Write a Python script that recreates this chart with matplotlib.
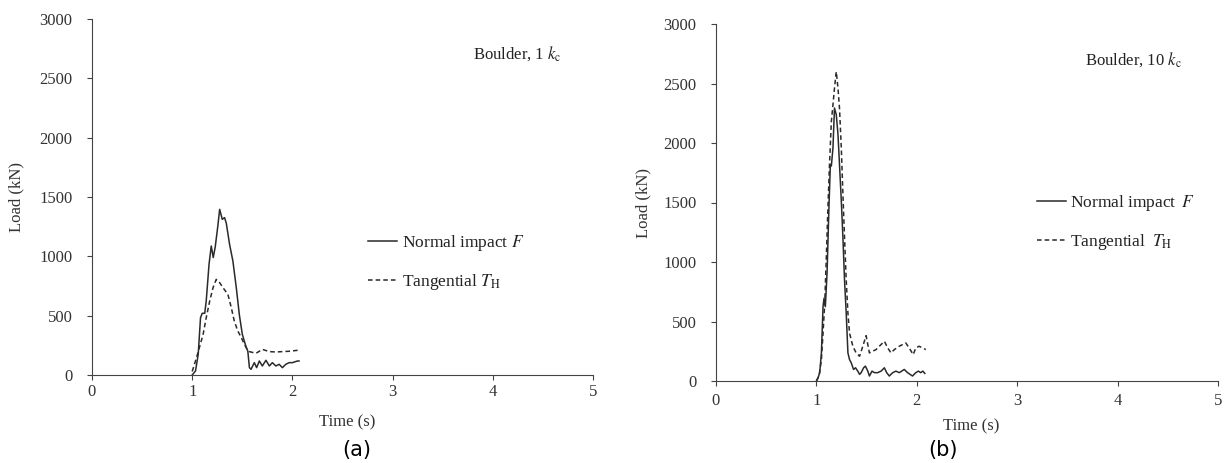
import matplotlib.pyplot as plt

plt.rcParams['font.family'] = ['Liberation Serif', 'DejaVu Serif']
plt.rcParams['mathtext.fontset'] = 'stix'
plt.rcParams['font.size'] = 12

# (a) Boulder, 1 kc
t_a_F = [1.0, 1.033, 1.06, 1.083, 1.1, 1.125, 1.14, 1.168, 1.19, 1.21, 1.23, 1.255, 1.274,
         1.30, 1.323, 1.34, 1.373, 1.406, 1.44, 1.47, 1.50, 1.54, 1.555, 1.571, 1.587, 1.62,
         1.643, 1.67, 1.70, 1.736, 1.77, 1.80, 1.835, 1.868, 1.90, 1.934, 1.967, 2.0, 2.05, 2.066]
F_a = [0, 34, 174, 483, 520, 520, 624, 933, 1087, 990, 1080, 1250, 1396,
       1312, 1326, 1280, 1101, 961, 736, 511, 343, 230, 202, 62, 48, 104,
       62, 118, 76, 124, 76, 104, 76, 90, 62, 90, 104, 104, 118, 118]
t_a_T = [1.0, 1.043, 1.076, 1.109, 1.14, 1.175, 1.208, 1.24, 1.274, 1.307, 1.356, 1.39,
         1.42, 1.455, 1.49, 1.52, 1.55, 1.571, 1.637, 1.70, 1.77, 1.835, 1.90, 1.967, 2.05, 2.066]
T_a = [30, 146, 244, 343, 483, 624, 736, 806, 778, 736, 680, 568,
       455, 371, 315, 260, 215, 197, 183, 216, 197, 194, 197, 200, 208, 208]

# (b) Boulder, 10 kc
t_b_F = [1.0, 1.017, 1.033, 1.05, 1.066, 1.076, 1.089, 1.106, 1.125, 1.139, 1.149, 1.165,
         1.18, 1.198, 1.215, 1.23, 1.248, 1.264, 1.28, 1.297, 1.314, 1.33, 1.347, 1.37,
         1.39, 1.412, 1.43, 1.446, 1.47, 1.488, 1.512, 1.528, 1.554, 1.578, 1.61, 1.644,
         1.677, 1.70, 1.726, 1.76, 1.792, 1.825, 1.875, 1.908, 1.957, 1.99, 2.016, 2.039,
         2.06, 2.08]
F_b = [0, 28, 70, 236, 625, 695, 625, 903, 1460, 1820, 1807, 1960,
       2294, 2238, 2071, 1820, 1515, 1209, 848, 570, 236, 180, 153, 97,
       111, 83, 56, 70, 111, 125, 83, 42, 83, 70, 70, 83,
       111, 70, 42, 70, 83, 70, 97, 70, 42, 70, 83, 70, 83, 64]
t_b_T = [1.0, 1.026, 1.05, 1.066, 1.083, 1.1, 1.116, 1.132, 1.149, 1.165, 1.18, 1.198,
         1.215, 1.23, 1.248, 1.264, 1.28, 1.297, 1.314, 1.33, 1.363, 1.396, 1.43, 1.462,
         1.495, 1.528, 1.56, 1.594, 1.627, 1.677, 1.71, 1.743, 1.776, 1.825, 1.89, 1.924,
         1.964, 1.99, 2.023, 2.056, 2.09]
T_b = [0, 42, 180, 403, 653, 1070, 1487, 1849, 2182, 2321, 2460, 2599,
       2460, 2294, 1960, 1570, 1209, 848, 570, 403, 292, 236, 208, 292,
       381, 236, 250, 264, 292, 334, 278, 236, 264, 292, 320, 278,
       222, 278, 292, 278, 264]

fig = plt.figure(figsize=(12.29, 4.63), dpi=100)
ax_a = fig.add_axes([92 / 1229, 1 - 375 / 463, 501 / 1229, 356 / 463])
ax_b = fig.add_axes([716 / 1229, 1 - 381 / 463, 502 / 1229, 357 / 463])

# axes, data, note text, legend labels, legend anchor, note anchor, xlabel pos, ylabel x, x tick pad
panels = [
    (ax_a, t_a_F, F_a, t_a_T, T_a, r'Boulder, 1 $k_\mathrm{c}$',
     [r'Normal impact $F$', r'Tangential $T_\mathrm{H}$'],
     (0.551, 0.399), (0.938, 0.904), (0.509, -0.110), -0.134, 3),
    (ax_b, t_b_F, F_b, t_b_T, T_b, r'Boulder, 10 $k_\mathrm{c}$',
     [r'Normal impact $\,F$', r'Tangential $\;T_\mathrm{H}$'],
     (0.639, 0.527), (0.928, 0.899), (0.508, -0.106), -0.129, 5),
]

for ax, tF, F, tT, T, note, labels, leg_xy, note_xy, xl_xy, yl_x, xpad in panels:
    ax.plot(tF, F, color='#2a2a2a', lw=1.1, label=labels[0])
    ax.plot(tT, T, color='#2a2a2a', lw=1.1, ls=(0, (3, 2)), label=labels[1])
    ax.set_xlim(0, 5)
    ax.set_ylim(0, 3000)
    ax.set_xticks(range(0, 6))
    ax.set_yticks(range(0, 3001, 500))
    ax.spines['top'].set_visible(False)
    ax.spines['right'].set_visible(False)
    for s in ['left', 'bottom']:
        ax.spines[s].set_color('#444444')
    ax.tick_params(direction='out', length=3.6, color='#444444', labelcolor='#333333', labelsize=12)
    ax.tick_params(axis='x', pad=xpad)
    ax.tick_params(axis='y', pad=10.5)
    ax.set_xlabel('Time (s)', color='#333333', fontsize=12)
    ax.set_ylabel('Load (kN)', color='#333333', fontsize=12)
    ax.xaxis.set_label_coords(*xl_xy)
    ax.yaxis.set_label_coords(yl_x, 0.5)
    ax.text(note_xy[0], note_xy[1], note, transform=ax.transAxes, ha='right', va='center',
            color='#222222', fontsize=12)
    ax.legend(loc='upper left', bbox_to_anchor=leg_xy, frameon=False, borderpad=0,
              borderaxespad=0, handlelength=1.68, handletextpad=0.25, labelspacing=1.1,
              fontsize=12.5, labelcolor='#222222')

fig.text(357 / 1229, 1 - 450 / 463, '(a)', ha='center', va='center', family='DejaVu Sans', fontsize=15)
fig.text(943 / 1229, 1 - 450 / 463, '(b)', ha='center', va='center', family='DejaVu Sans', fontsize=15)

fig.savefig('out.png', dpi=100)
